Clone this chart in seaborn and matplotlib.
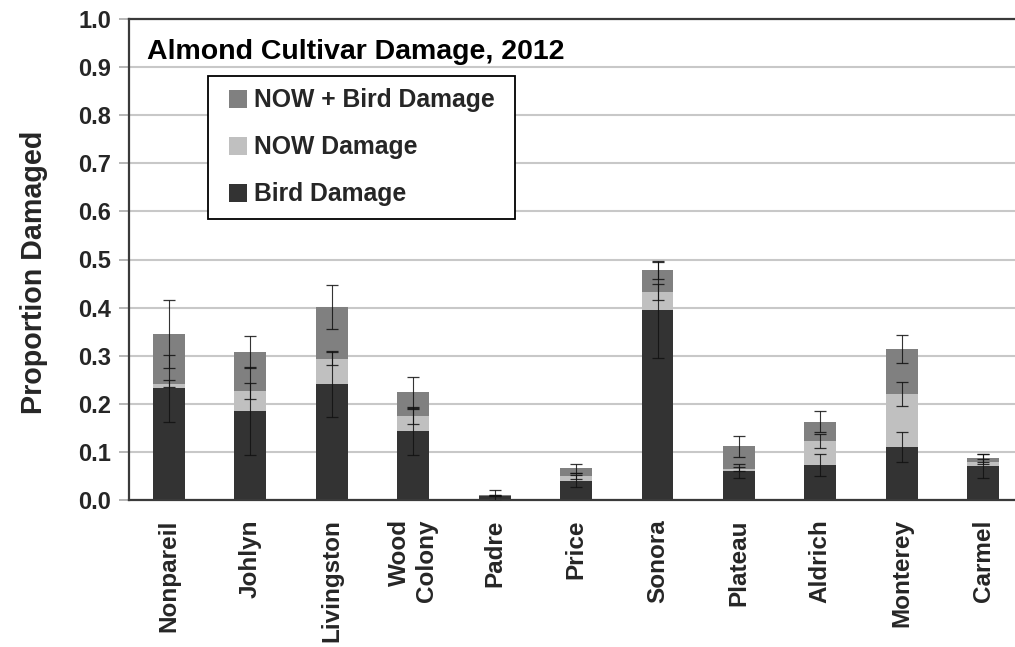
import numpy as np
import pandas as pd
import matplotlib
matplotlib.use("Agg")
import matplotlib.pyplot as plt
from matplotlib.patches import Rectangle, Patch
from matplotlib.legend_handler import HandlerPatch
import seaborn as sns

# Cultivars and damage proportions (segment heights of each stacked bar)
cultivars = ["Nonpareil", "Johlyn", "Livingston", "Wood\nColony", "Padre", "Price",
             "Sonora", "Plateau", "Aldrich", "Monterey", "Carmel"]
bird_damage = [0.232, 0.185, 0.241, 0.143, 0.009, 0.040, 0.395, 0.060, 0.073, 0.110, 0.071]
now_damage = [0.010, 0.042, 0.053, 0.031, 0.000, 0.010, 0.038, 0.005, 0.050, 0.110, 0.009]
now_bird_damage = [0.103, 0.081, 0.107, 0.050, 0.002, 0.016, 0.045, 0.047, 0.040, 0.094, 0.007]

# Standard errors for each segment
bird_err = [0.070, 0.092, 0.068, 0.050, 0.012, 0.013, 0.100, 0.014, 0.023, 0.031, 0.025]
now_err = [0.008, 0.017, 0.013, 0.015, 0.000, 0.007, 0.017, 0.004, 0.015, 0.025, 0.006]
now_bird_err = [0.070, 0.033, 0.045, 0.032, 0.000, 0.009, 0.018, 0.022, 0.022, 0.029, 0.008]

y_ticks = [0.0, 0.1, 0.2, 0.3, 0.4, 0.5, 0.6, 0.7, 0.8, 0.9, 1.0]

df = pd.DataFrame({
    "cultivar": cultivars,
    "bird": bird_damage,
    "now": now_damage,
    "both": now_bird_damage,
})
df["top_bird"] = df["bird"]
df["top_now"] = df["bird"] + df["now"]
df["top_both"] = df["top_now"] + df["both"]

sns.set_theme(style="white")
plt.rcParams["font.family"] = ["Liberation Sans", "DejaVu Sans"]
plt.rcParams["font.weight"] = "bold"

c_bird = "#333333"
c_now = "#c0c0c0"
c_both = "#808080"
layers = [("top_both", c_both, "NOW + Bird Damage"),
          ("top_now", c_now, "NOW Damage"),
          ("top_bird", c_bird, "Bird Damage")]

fig = plt.figure(figsize=(10.15, 6.47), dpi=100)
ax = fig.add_axes([129 / 1015, 1 - 500 / 647, 1 - 129 / 1015, 481 / 647])

bar_w = 0.39
for col, colour, lab in layers:
    sns.barplot(data=df, x="cultivar", y=col, color=colour, width=bar_w,
                saturation=1, ax=ax, zorder=2, linewidth=0, edgecolor="none")

# Error bars at the top of each stacked segment
xpos = np.arange(len(cultivars))
for tops, errs in [(df["top_bird"], bird_err), (df["top_now"], now_err),
                   (df["top_both"], now_bird_err)]:
    ax.errorbar(xpos, tops, yerr=errs, fmt="none", ecolor="#111111",
                elinewidth=0.8, capsize=4.5, capthick=0.9, alpha=0.85, zorder=3)

ax.set_ylim(0, 1.0)
ax.set_xlim(-0.49, len(cultivars) - 1 + 0.39)
ax.set_yticks(y_ticks)
ax.set_yticklabels([f"{t:.1f}" for t in y_ticks], fontsize=17, fontweight="bold")
ax.set_xticks(xpos)
ax.set_xticklabels(cultivars, rotation=90, fontsize=17.5, fontweight="bold",
                   va="top", ha="center", multialignment="right")
ax.tick_params(axis="x", length=0, pad=14)
ax.tick_params(axis="y", length=7, width=1.2, color="#aaaaaa", pad=6, left=True)

ax.yaxis.grid(True, color="#c8c8c8", linewidth=1.5, zorder=0)
ax.xaxis.grid(False)
ax.set_axisbelow(True)

for side in ["left", "bottom", "top"]:
    ax.spines[side].set_visible(True)
    ax.spines[side].set_color("#3a3a3a")
    ax.spines[side].set_linewidth(1.6)
ax.spines["right"].set_visible(False)

ax.set_xlabel("")
ax.set_ylabel("Proportion Damaged", fontsize=20.6, fontweight="bold")
ax.yaxis.set_label_coords(-0.091, 0.473)

ax.text(0.020, 0.916, "Almond Cultivar Damage, 2012", transform=ax.transAxes,
        fontsize=20.5, fontweight="bold", va="baseline", ha="left", color="black")


# Square legend keys sitting at the right end of the handle slot
def square_key(legend, orig_handle, xdescent, ydescent, width, height, fontsize):
    side = 18 * 72 / fig.dpi
    return Rectangle((-xdescent + width - side, -ydescent + (height - side) / 2),
                     side, side)


handles = [Patch(facecolor=colour, edgecolor="none", linewidth=0) for _, colour, _ in layers]
labels = [lab for _, _, lab in layers]
leg = ax.legend(handles, labels, loc="upper left",
                bbox_to_anchor=(0.0888, 0.3, 0.3465, 0.5815), mode="expand",
                borderaxespad=0, frameon=True, fancybox=False, framealpha=1,
                edgecolor="black", prop={"size": 17.8, "weight": "bold"},
                handlelength=1.08, handleheight=0.76, handletextpad=0.28,
                labelspacing=0.93, borderpad=0.5,
                handler_map={Patch: HandlerPatch(patch_func=square_key)})
leg.get_frame().set_linewidth(1.3)

fig.savefig("out.png", dpi=100)
